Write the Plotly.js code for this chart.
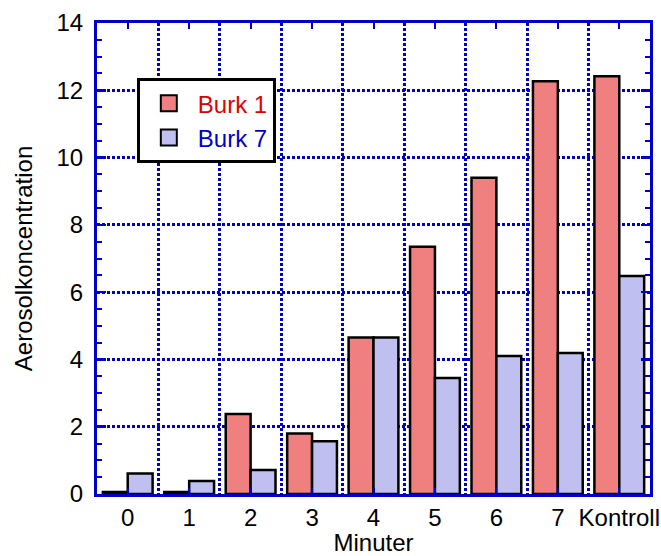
<!DOCTYPE html>
<html>
<head>
<meta charset="utf-8">
<script src="https://cdn.plot.ly/plotly-3.0.1.min.js"></script>
<style>html,body{margin:0;padding:0;background:#fff;}#chart{width:661px;height:556px;}</style>
</head>
<body>
<div id="chart"></div>
<script>
var categories = ['0', '1', '2', '3', '4', '5', '6', '7', 'Kontroll'];
var burk1 = [0.06, 0.06, 2.38, 1.80, 4.65, 7.35, 9.40, 12.27, 12.42];
var burk7 = [0.61, 0.39, 0.71, 1.57, 4.65, 3.45, 4.10, 4.19, 6.48];
var seriesNames = ['Burk 1', 'Burk 7'];
var positions = categories.map(function (c, i) { return i; });

var axisBlue = '#0000CC';
var fontFam = 'Liberation Sans, Arial, sans-serif';
var fs = 24;

var traces = [
  {
    type: 'bar', x: positions, y: burk1, showlegend: false,
    marker: { color: '#F08080', line: { color: '#000000', width: 2.5 } }
  },
  {
    type: 'bar', x: positions, y: burk7, showlegend: false,
    marker: { color: '#C0C0F0', line: { color: '#000000', width: 2.5 } }
  },
  {
    type: 'scatter', mode: 'markers', x: [null], y: [null],
    name: '<span style="color:#E00000">' + seriesNames[0] + '</span>',
    marker: { symbol: 'square', size: 16, color: '#F08080', line: { color: '#000000', width: 2 } }
  },
  {
    type: 'scatter', mode: 'markers', x: [null], y: [null],
    name: '<span style="color:#0000CC">' + seriesNames[1] + '</span>',
    marker: { symbol: 'square', size: 16, color: '#C0C0F0', line: { color: '#000000', width: 2 } }
  }
];

var layout = {
  width: 661, height: 556,
  margin: { l: 97, r: 11, t: 23, b: 62 },
  paper_bgcolor: '#ffffff', plot_bgcolor: '#ffffff',
  font: { family: fontFam, size: fs, color: '#000000' },
  barmode: 'group', bargap: 0.19, bargroupgap: 0,
  showlegend: true,
  legend: {
    x: 0.072, y: 0.883, xanchor: 'left', yanchor: 'top',
    bgcolor: '#ffffff', bordercolor: '#000000', borderwidth: 3,
    font: { family: fontFam, size: fs },
    itemwidth: 48, tracegroupgap: 0
  },
  xaxis: {
    range: [-0.5, 8.5],
    tickmode: 'array', tickvals: positions, ticktext: categories,
    ticks: 'inside', ticklen: 6, tickwidth: 2, tickcolor: axisBlue,
    showgrid: false, zeroline: false,
    showline: true, linecolor: axisBlue, linewidth: 3, mirror: 'allticks',
    tickfont: { family: fontFam, size: fs, color: '#000000' },
    minor: { tick0: 0.5, dtick: 1, ticks: '', showgrid: true, gridcolor: axisBlue, gridwidth: 3, griddash: '3px,2px' },
    title: { text: 'Minuter', font: { family: fontFam, size: fs, color: '#000000' }, standoff: 6 }
  },
  yaxis: {
    range: [0, 14], dtick: 2, tick0: 0,
    ticks: 'inside', ticklen: 9, tickwidth: 2.5, tickcolor: axisBlue,
    ticklabelstandoff: 6,
    showgrid: true, gridcolor: axisBlue, gridwidth: 3, griddash: '3px,2px',
    zeroline: false,
    showline: true, linecolor: axisBlue, linewidth: 3, mirror: 'allticks',
    tickfont: { family: fontFam, size: fs, color: '#000000' },
    minor: { dtick: 0.5, ticks: 'inside', ticklen: 5, tickwidth: 2, tickcolor: axisBlue, showgrid: false },
    title: { text: 'Aerosolkoncentration', font: { family: fontFam, size: fs, color: '#000000' }, standoff: 18 }
  }
};

Plotly.newPlot('chart', traces, layout, { displayModeBar: false, staticPlot: true });
</script>
</body>
</html>
